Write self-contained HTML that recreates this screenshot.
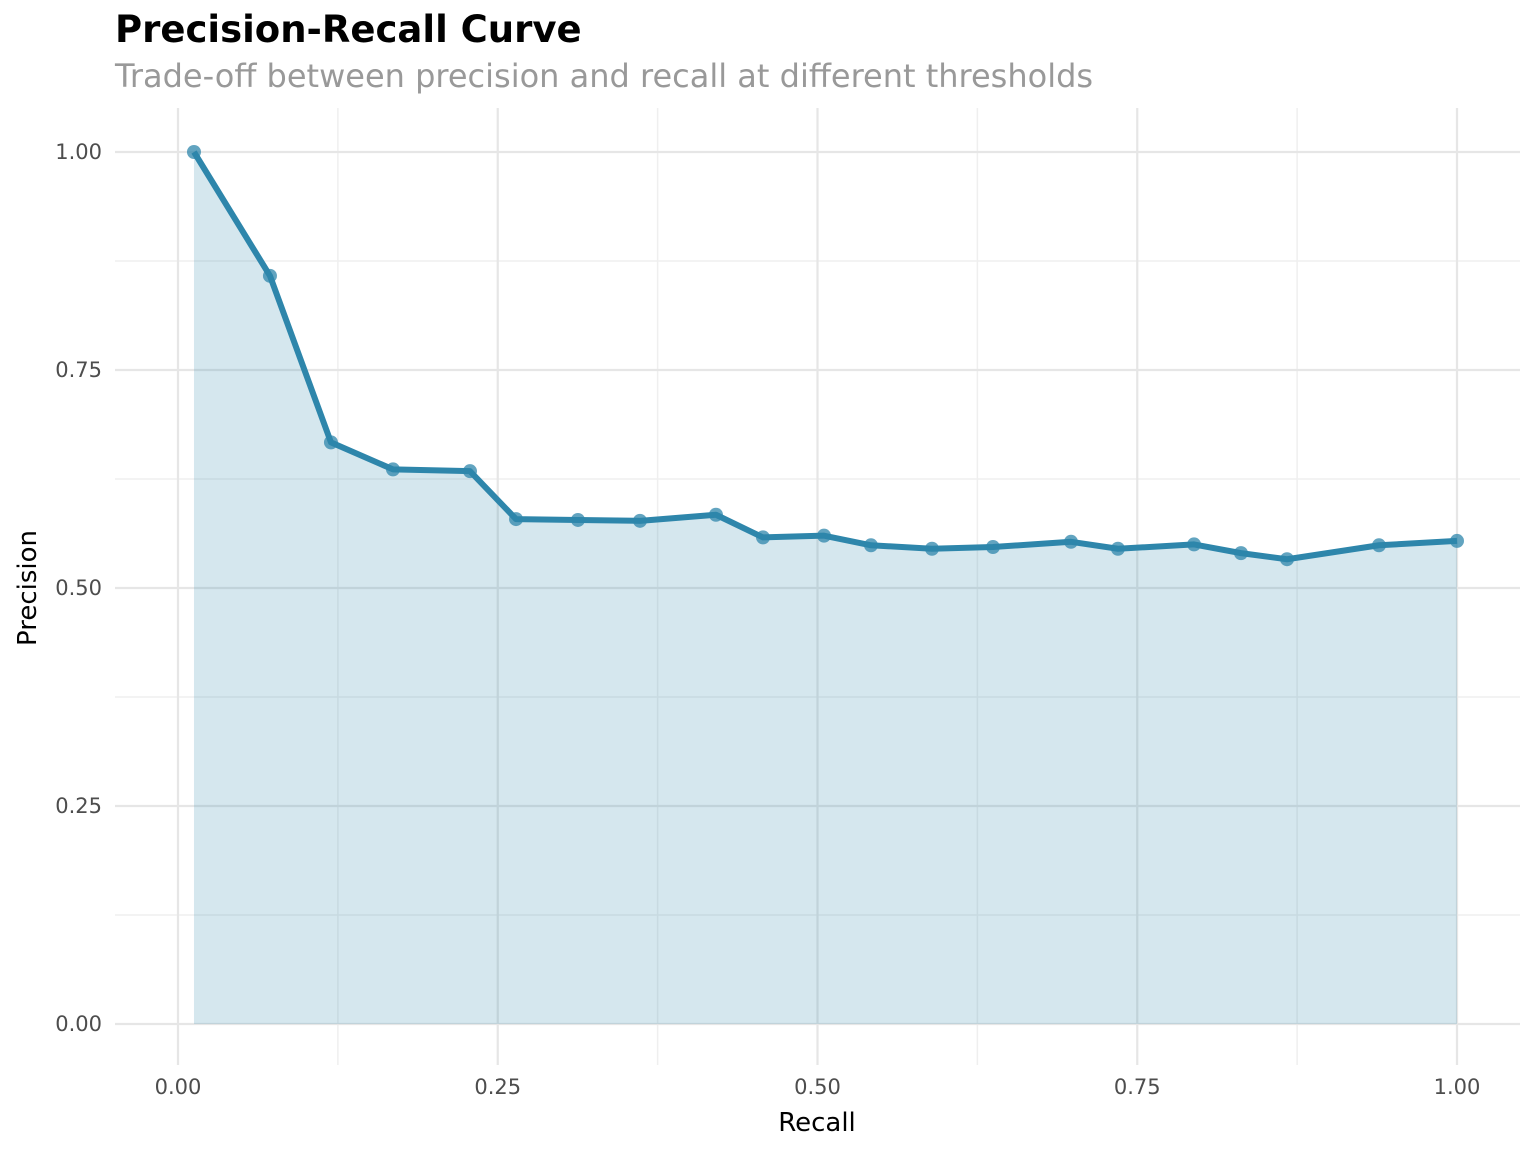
<!DOCTYPE html>
<html><head><meta charset="utf-8"><style>
html,body{margin:0;padding:0;background:#fff;}
svg{display:block;font-family:"DejaVu Sans","Liberation Sans",sans-serif;}
</style></head><body>
<svg id="chart" width="1536" height="1152">
<text x="115" y="42" font-size="37" font-weight="bold" fill="#000">Precision-Recall Curve</text>
<text x="115" y="87" font-size="32" fill="#999">Trade-off between precision and recall at different thresholds</text>
<g id="grid"></g>
<g id="area"></g>
<g id="marks"></g>
<g id="axes"></g>
<text x="817" y="1131" font-size="26" text-anchor="middle" fill="#000">Recall</text>
<text transform="translate(36,588) rotate(-90)" font-size="26" text-anchor="middle" fill="#000">Precision</text>
</svg>
<script>
const recall = [0.0125,0.0719,0.1196,0.1681,0.2283,0.2643,0.3127,0.3612,0.4206,0.4574,0.5051,0.5418,0.5895,0.6372,0.6982,0.7349,0.7944,0.8311,0.8671,0.9390,1.0];
const precision = [1.0,0.858,0.667,0.636,0.634,0.579,0.578,0.577,0.584,0.558,0.560,0.549,0.545,0.547,0.553,0.545,0.550,0.540,0.533,0.549,0.554];
const xTicks = [0,0.25,0.5,0.75,1];
const xTickLabels = ["0.00","0.25","0.50","0.75","1.00"];
const yTicks = [0,0.25,0.5,0.75,1];
const yTickLabels = ["0.00","0.25","0.50","0.75","1.00"];

const NS="http://www.w3.org/2000/svg";
const X0=178,X1=1457,Y0=1024,Y1=152;
const sx=v=>X0+v*(X1-X0);
const sy=v=>Y0-v*(Y0-Y1);
function mk(tag,attrs,parent){const e=document.createElementNS(NS,tag);for(const k in attrs)e.setAttribute(k,attrs[k]);parent.appendChild(e);return e;}
const grid=document.getElementById('grid'),area=document.getElementById('area'),marks=document.getElementById('marks'),axes=document.getElementById('axes');
const L=115,R=1520,T=108,B=1065;
for(let i=0;i<xTicks.length-1;i++){
  const g=mk('line',{x1:sx((xTicks[i]+xTicks[i+1])/2),x2:sx((xTicks[i]+xTicks[i+1])/2),y1:T,y2:B,stroke:'#efefef','stroke-width':1.5},grid);
  
  
}
for(let i=0;i<yTicks.length-1;i++){
  const g=mk('line',{y1:sy((yTicks[i]+yTicks[i+1])/2),y2:sy((yTicks[i]+yTicks[i+1])/2),x1:L,x2:R,stroke:'#efefef','stroke-width':1.5},grid);
  
  
}
xTicks.forEach((t,i)=>{
  const g=mk('line',{x1:sx(t),x2:sx(t),y1:T,y2:B,stroke:'#e6e6e6','stroke-width':2.2},grid);
  
  
  const tx=mk('text',{x:sx(t),y:1094,'font-size':21,'text-anchor':'middle',fill:'#4d4d4d'},axes);
  tx.textContent=xTickLabels[i];
  
  
});
yTicks.forEach((t,i)=>{
  const g=mk('line',{y1:sy(t),y2:sy(t),x1:L,x2:R,stroke:'#e6e6e6','stroke-width':2.2},grid);
  
  
  const tx=mk('text',{x:102,y:sy(t)+7,'font-size':21,'text-anchor':'end',fill:'#4d4d4d'},axes);
  tx.textContent=yTickLabels[i];
  
  
});
let d='M'+sx(recall[0])+','+sy(0);
recall.forEach((r,i)=>{d+=' L'+sx(r)+','+sy(precision[i]);});
d+=' L'+sx(recall[recall.length-1])+','+sy(0)+' Z';
const a=mk('path',{d:d,fill:'#2e86ab','fill-opacity':0.2},area);


const ld=recall.map((r,i)=>(i?'L':'M')+sx(r)+','+sy(precision[i])).join(' ');
const ln=mk('path',{d:ld,fill:'none',stroke:'#2e86ab','stroke-width':6,'stroke-linejoin':'round'},marks);


recall.forEach((r,i)=>{
  const c=mk('circle',{cx:sx(r),cy:sy(precision[i]),r:7,fill:'#2e86ab','fill-opacity':0.75},marks);
  
  
});
</script>
</body></html>
